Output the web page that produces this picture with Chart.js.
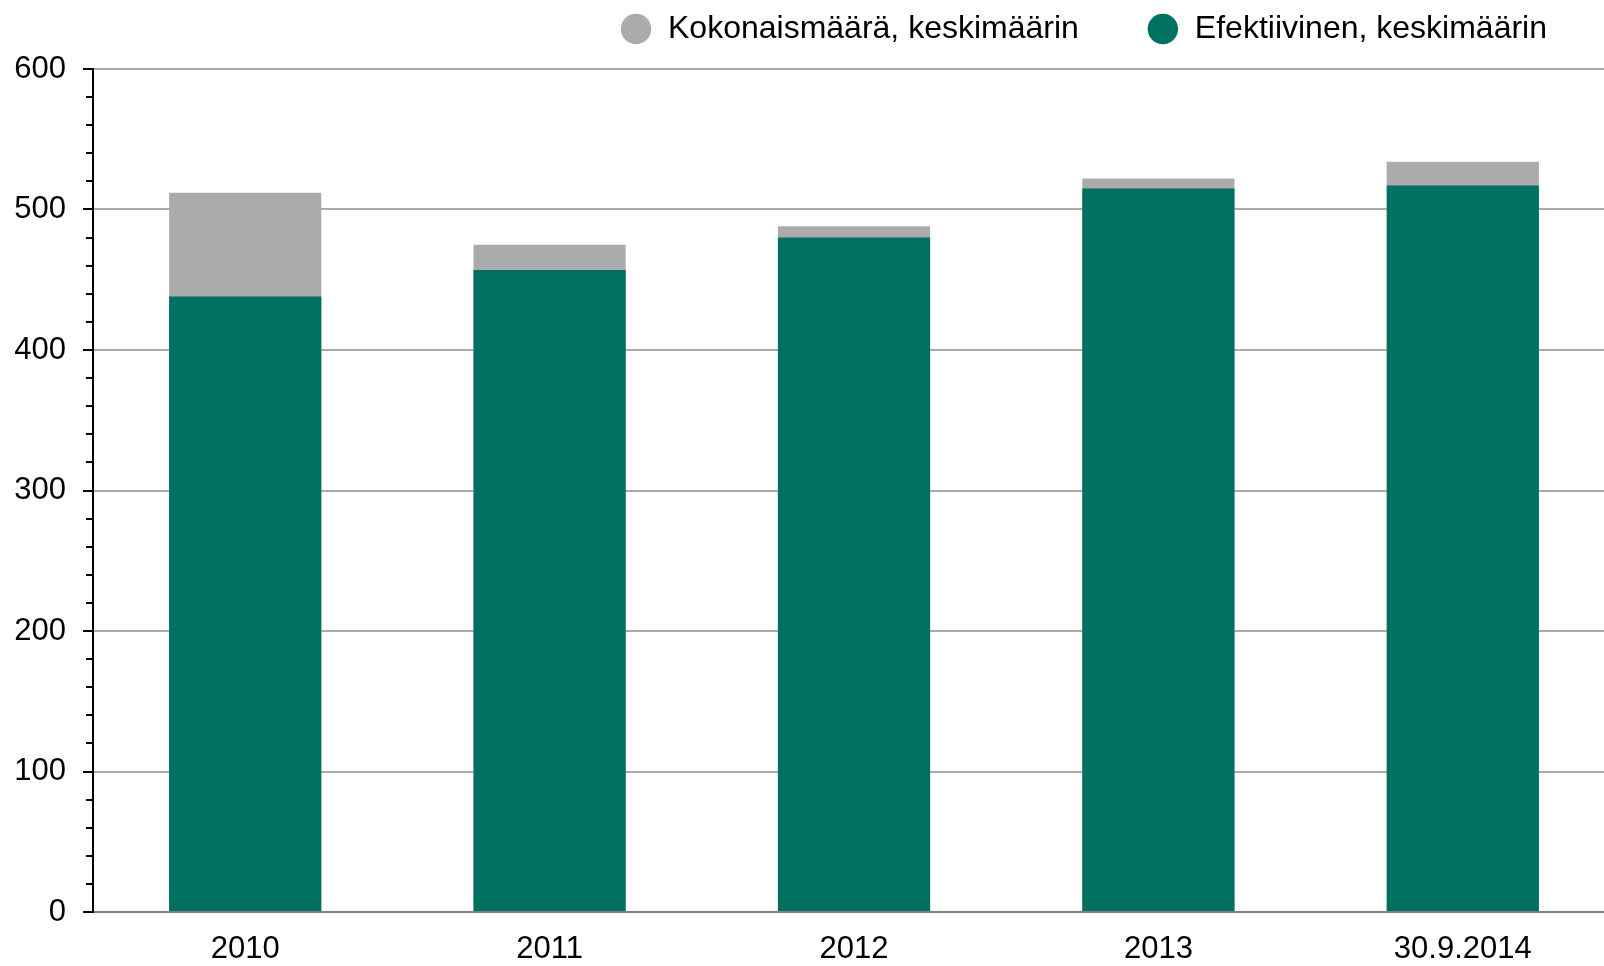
<!DOCTYPE html>
<html>
<head>
<meta charset="utf-8">
<script src="https://cdn.jsdelivr.net/npm/chart.js@4/dist/chart.umd.min.js"></script>
<style>
  html, body { margin: 0; padding: 0; background: #fff; overflow: hidden; }
  #wrap { width: 1615px; height: 966px; }
</style>
</head>
<body>
<div id="wrap"><canvas id="chart"></canvas></div>
<script>
const categories = ['2010', '2011', '2012', '2013', '30.9.2014'];
const totalAvg = [512, 475, 488, 522, 534];
const effectiveAvg = [438, 457, 480, 515, 517];
const seriesNames = ['Kokonaismäärä, keskimäärin', 'Efektiivinen, keskimäärin'];
const yMin = 0;
const yMax = 600;
const yStep = 100;
const yMinorStep = 20;

const fontFamily = '"Liberation Sans", Arial, sans-serif';

// small ticks between the labelled ones on the y axis
const minorTicks = {
    id: 'minorTicks',
    afterDraw(chart) {
        const y = chart.scales.y;
        const ctx = chart.ctx;
        const x = chart.chartArea.left;
        ctx.save();
        ctx.strokeStyle = '#000';
        ctx.lineWidth = 2;
        for (let v = yMin + yMinorStep; v < yMax; v += yMinorStep) {
            if (v % yStep === 0) continue;
            const py = Math.round(y.getPixelForValue(v));
            ctx.beginPath();
            ctx.moveTo(x - 7, py);
            ctx.lineTo(x, py);
            ctx.stroke();
        }
        ctx.restore();
    }
};

// keep the legend up in the top band
const legendShift = {
    id: 'legendShift',
    afterLayout(chart) {
        chart.legend.top = 13 - 68;
    }
};

const ctx = document.getElementById('chart').getContext('2d');
new Chart(ctx, {
    type: 'bar',
    data: {
        labels: categories,
        datasets: [{
            label: seriesNames[0],
            data: totalAvg,
            backgroundColor: '#ababab',
            order: 2
        }, {
            label: seriesNames[1],
            data: effectiveAvg,
            backgroundColor: '#007060',
            order: 1
        }]
    },
    options: {
        responsive: true,
        maintainAspectRatio: false,
        animation: false,
        layout: { padding: 0 },
        datasets: {
            bar: { categoryPercentage: 0.5, barPercentage: 1, borderWidth: 0 }
        },
        plugins: {
            tooltip: { enabled: false },
            legend: {
                position: 'top',
                align: 'end',
                maxHeight: 69,
                labels: {
                    usePointStyle: true,
                    pointStyle: 'circle',
                    boxWidth: 32,
                    boxHeight: 21.5,
                    padding: 68,
                    color: '#000',
                    font: { family: fontFamily, size: 32 },
                    sort: (a, b) => a.datasetIndex - b.datasetIndex
                }
            }
        },
        scales: {
            x: {
                stacked: true,
                afterFit(scale) { scale.height = 54; },
                grid: { display: false, drawTicks: false },
                border: { display: true, color: '#808080', width: 2 },
                ticks: {
                    color: '#000',
                    padding: 19,
                    font: { family: fontFamily, size: 31 },
                    maxRotation: 0
                }
            },
            y: {
                stacked: false,
                min: yMin,
                max: yMax,
                afterFit(scale) { scale.width = 93; },
                ticks: {
                    stepSize: yStep,
                    color: '#000',
                    padding: 17,
                    font: { family: fontFamily, size: 31 }
                },
                grid: {
                    color: '#aaaaaa',
                    lineWidth: 2,
                    tickColor: '#000',
                    tickLength: 10,
                    tickWidth: 2
                },
                border: { color: '#000', width: 2 }
            }
        }
    },
    plugins: [minorTicks, legendShift]
});
</script>
</body>
</html>
